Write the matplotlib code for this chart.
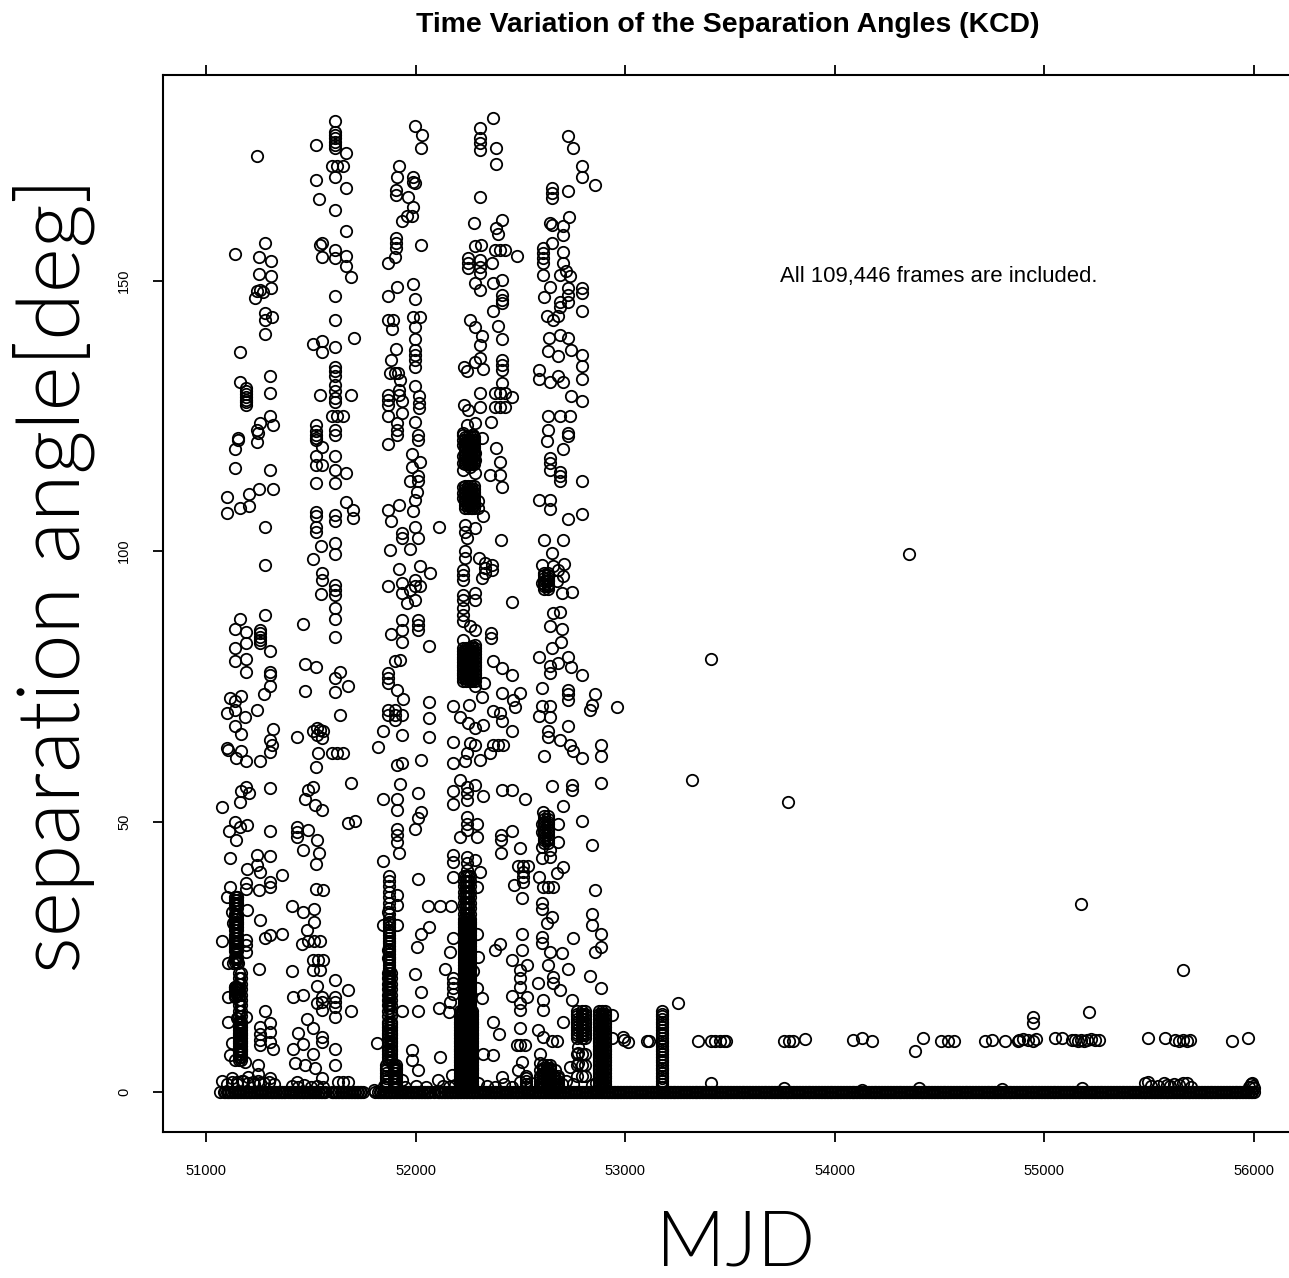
import matplotlib
matplotlib.use("Agg")
import matplotlib.pyplot as plt

# points as (MJD, separation angle)
band_a = [(51243,173),(51140,155),(51281,157),(51254,154.3),(51310,153.6),(51254,151.2),(51310,150.8),(51310,148.6),
 (51242,148),(51258,148.3),(51273,147.8),(51234,146.7),(51281,144),(51281,142.7),(51313,143.2),(51281,140.2),(51164,136.8),
 (51164,131.3),(51191,130.1),(51191,129.5),(51191,129),(51191,128.5),(51191,128),(51191,127.5),(51191,127),(51305,132.3),
 (51305,129.3),(51305,124.9),(51321,123.3),(51258,123.6),(51242,122.4),(51154,120.9),(51250,121.8),(51242,120.2),(51154,120.5),
 (51140,118.8),(51140,115.4),(51305,114.9),(51254,111.4),(51321,111.4),(51203,110.5),(51102,110),(51162,107.9),(51207,108.4),
 (51102,107),(51281,104.4),(51281,97.5),(51281,88.1),(51164,87.5),(51140,85.6),(51191,85.1),(51258,85.4),(51258,84.8),(51258,84.2),
 (51258,83.6),(51258,83),(51191,83),(51140,82.1),(51305,81.6),(51140,79.6),(51191,80.1),(51191,77.6),(51305,77.7),(51305,77.1),
 (51305,75.1),(51278,73.6),(51168,73.2),(51114,72.8),(51138,72.2),(51242,70.7),(51098,70),(51138,70.7),(51186,69.4),(51138,67.7),
 (51167,66.2),(51321,67.1),(51305,65.1),(51313,64.2),(51305,62.9),(51098,63.6),(51106,63.3),(51167,63),(51143,61.7),(51191,61.1),
 (51258,61.1),(51191,56.4),(51167,55.6),(51207,55.2),(51305,56.2),(51162,53.6),(51075,52.7),(51138,50),(51194,49.3),(51110,48.2),
 (51162,49),(51143,46.6),(51305,48.2),(51114,43.2),(51242,43.9),(51305,43.7),(51194,41.3),(51242,41.9),(51258,40.7),(51361,40.2),
 (51191,38.6),(51191,37.6),(51305,38.9),(51305,37.9),(51254,37.3),(51114,37.9),(51098,36.1),(51146,36.1),(51122,33.3),(51194,33.6),
 (51258,31.8),(51130,31.2),(51143,29.3),(51143,27.5),(51143,26.5),(51191,28.1),(51191,27.2),(51191,25.9),(51075,27.9),(51281,28.4),
 (51305,29),(51361,29.3),(51106,23.9),(51130,23.9),(51154,23.9),(51254,22.8),(51138,19.5),(51138,17.6),(51106,17.5),(51281,15),
 (51191,13.9),(51106,13),(51146,13.6),(51162,11.8),(51162,10.2),(51162,9.3),(51162,8),(51162,7.1),(51122,9),(51114,6.8),(51138,5.9),
 (51186,5.6),(51250,5),(51258,12),(51258,10.8),(51258,9.6),(51258,8.7),(51305,12.7),(51305,11.1),(51305,9.3),(51321,7.9),(51075,2),
 (51122,2.5),(51305,2.5),(51250,3.4),(51202,2.8),(51170,2),(51150,1.8),(51260,1.6),(51230,1.5)]

band_b = [(51615,179.5),(51615,177.5),(51615,176.9),(51615,176.3),(51615,175.7),(51615,175.1),(51615,174.5),(51523,175.1),(51666,173.5),
 (51599,171.1),(51626,171.1),(51652,171.1),(51615,169.1),(51523,168.6),(51666,167.1),(51539,165.1),(51615,163.1),(51666,159.1),
 (51544,156.5),(51552,156.9),(51615,155.7),(51615,154.1),(51552,154.3),(51666,154.6),(51666,152.7),(51692,150.7),(51615,147.2),
 (51615,142.7),(51704,139.3),(51512,138.2),(51552,138.9),(51552,136.8),(51615,137.8),(51615,134.1),(51615,133.2),(51615,132.3),
 (51615,130.7),(51615,129.5),(51615,128.3),(51544,128.8),(51692,128.8),(51615,127.5),(51599,124.9),(51626,124.9),(51652,124.9),
 (51523,123.3),(51523,122.1),(51523,120.9),(51615,122.4),(51615,121.5),(51523,121.5),(51523,120.6),(51552,119.3),(51523,117.5),
 (51523,115.9),(51552,115.9),(51615,117.5),(51615,114.9),(51666,114.4),(51523,112.5),(51615,112.5),(51523,107.3),(51523,106.4),
 (51615,106.7),(51615,105.5),(51666,109),(51702,107.6),(51702,106.1),(51523,104.5),(51523,103.6),(51549,101),(51615,101.5),(51615,99.5),
 (51512,98.5),(51552,95.9),(51552,94.7),(51615,93.8),(51615,92.8),(51615,91.9),(51549,92),(51615,89.4),(51615,87.5),(51615,84.1),
 (51461,86.6),(51472,79.1),(51523,78.6),(51639,77.7),(51615,76.5),(51679,75.1),(51615,74),(51472,74.2),(51641,69.7),(51544,67),
 (51512,66.7),(51559,66.7),(51528,67.3),(51528,66),(51436,65.7),(51552,65.4),(51536,62.6),(51599,62.6),(51626,62.6),(51652,62.6),
 (51523,60.1),(51512,56.4),(51488,55.8),(51472,54.1),(51520,53),(51552,52.1),(51690,57.2),(51679,49.8),(51711,50.1),(51432,49),
 (51432,48.1),(51432,47.2),(51488,48.4),(51528,46.6),(51464,44.8),(51540,44.2),(51523,42.1),(51525,37.6),(51560,37.3),(51409,34.4),
 (51464,33.3),(51515,33.9),(51515,31.5),(51480,29.9),(51456,27.4),(51488,27.9),(51515,27.9),(51544,27.9),(51409,22.4),(51512,24.4),
 (51536,24.4),(51560,24.4),(51512,22.5),(51544,22.5),(51615,20.8),(51528,19.6),(51679,18.8),(51416,17.5),(51464,17.9),(51552,17.6),
 (51552,16.7),(51615,17.6),(51615,16.7),(51615,15.8),(51690,15),(51615,13.8),(51528,16.4),(51552,15.2),(51480,13.5),(51512,11.8),
 (51437,11),(51552,10.2),(51552,9.3),(51464,8.9),(51615,8),(51416,7.9),(51512,7.1),(51424,5.4),(51472,5),(51615,5),(51520,4.4),
 (51552,2.5),(51432,1.9),(51631,1.9),(51655,1.9),(51679,1.9)]

band_c = [(51997,178.6),(52029,177),(52024,174.5),(51922,171.1),(51910,169.1),(51986,169.2),(51989,168.3),(51997,168),(51906,166.8),
 (51906,165.8),(51965,165.5),(51986,163.6),(51933,161.1),(51957,162),(51981,162),(51906,157.8),(51906,156.9),(51906,156),(52024,156.6),
 (51902,154.4),(51870,153.2),(51910,148.8),(51870,147.2),(51986,149.3),(51997,146.6),(51870,142.7),(51894,142.7),(51886,141),
 (51986,143.2),(52021,143.2),(51997,141.5),(51997,139.2),(51997,137.2),(51997,136.3),(51997,135.3),(51997,134),(51906,137.3),
 (51883,135.3),(51878,132.9),(51902,132.9),(51918,132.9),(51925,131.6),(51997,130.6),(51922,129.8),(51922,128.9),(51870,128.9),
 (51870,128),(51870,127),(51933,127.7),(52018,128.6),(52018,127.3),(52018,126.4),(51870,124.9),(51933,125.5),(51997,123.8),
 (51910,123.6),(51910,122.4),(51910,121.5),(52013,121.5),(52013,120.6),(51870,119.8),(51981,118),(52021,116.4),(51981,115.6),
 (52013,113.8),(52013,112.9),(51973,112.9),(52005,111),(51997,109.5),(51922,108.6),(51870,107.6),(51986,107.4),(51883,105.5),
 (52113,104.4),(51997,104.5),(51933,103.3),(51933,102.4),(52013,102.4),(51973,100.4),(51878,100.2),(51922,96.7),(52021,97.2),
 (52069,96),(51870,93.6),(51933,94.1),(51997,94.7),(51997,93.5),(51933,92.2),(51973,92.8),(52021,93.5),(51957,90.4),(51997,91),
 (51933,87.3),(52013,87.3),(52013,86.4),(52013,85.4),(51881,84.6),(51933,85.4),(51933,83.1),(52064,82.5),(51925,79.9),(51902,79.6),
 (51870,77.4),(51870,76.5),(51870,75.6),(51910,74.4),(51938,72.6),(52064,72.1),(52064,69.1),(52064,65.7),(51870,70.7),(51870,69.7),
 (51902,70.7),(51902,69.7),(51902,68.8),(51933,69.7),(51846,66.7),(51933,66),(51819,63.7),(51910,60.5),(51933,60.8),(52024,61.3),
 (51925,57),(51846,54.1),(51910,54.1),(51910,52.1),(52013,55.2),(52026,51.8),(52013,50.6),(51997,48.6),(51910,48.7),(51910,47.5),
 (51910,46.3),(51922,44.2),(51846,42.7),(52013,39.3),(51910,36.4),(51910,34.5),(51870,33.3),(51843,30.9),(51910,30.9),(52064,30.5),
 (52026,29.3),(52005,26.9),(51870,26.2),(51870,24.7),(51997,21.9),(52026,18.4),(52013,15),(51933,15),(51814,9),(51981,7.8),
 (51981,5.9),(52013,4),(52115,6.5),(51933,2.2),(52108,2.2),(52172,3.1)]

band_d = [(52371,180.1),(52307,178.2),(52307,176.3),(52307,175.4),(52307,174.2),(52383,174.5),(52383,171.6),(52307,165.5),(52278,160.6),
 (52410,161.2),(52383,159.7),(52394,158.6),(52283,156.3),(52310,156.6),(52379,155.7),(52403,155.7),(52427,155.7),(52485,154.6),
 (52252,154.1),(52252,153.2),(52252,152.3),(52307,153.8),(52307,152.6),(52307,151.4),(52363,153.2),(52283,149.5),(52307,148.3),
 (52371,149.6),(52410,150.1),(52410,147.4),(52410,146.4),(52410,145.8),(52371,144.3),(52259,142.7),(52283,141.5),(52394,141.6),
 (52410,139.2),(52315,139.7),(52307,138.1),(52307,135.7),(52283,135),(52231,134.1),(52244,133.2),(52320,133.7),(52410,135.3),
 (52410,134.4),(52410,133.5),(52410,131),(52307,129.3),(52379,129.2),(52403,129.2),(52427,129.2),(52461,128.4),(52379,126.7),
 (52403,126.7),(52427,126.7),(52231,127),(52252,126.1),(52307,126.7),(52358,123.8),(52244,123.3),(52283,123.6),(52228,121.8),
 (52267,121.5),(52228,121.5),(52228,120.6),(52228,119.6),(52275,121.5),(52275,120.2),(52315,120.9),(52383,119),(52403,116.5),
 (52228,117.5),(52228,116.2),(52228,115),(52259,115.6),(52283,118.1),(52283,116.9),(52283,114.4),(52355,114.1),(52403,114.1),
 (52410,111.9),(52228,111.9),(52228,110.7),(52228,109.8),(52267,110.4),(52267,109.2),(52267,107.9),(52299,109.2),(52299,107.9),
 (52323,106.4),(52236,104.8),(52236,103.6),(52283,104.2),(52409,102),(52244,102.4),(52236,100),(52236,98.7),(52304,98.7),(52331,97.8),
 (52331,96.8),(52331,95.9),(52363,97.5),(52363,96.5),(52318,95),(52228,96.5),(52228,95.6),(52228,94.7),(52283,92.2),(52283,91),
 (52228,91.9),(52228,91),(52228,89.4),(52228,88.2),(52228,87),(52460,90.5),(52259,86.1),(52283,85.4),(52358,84.8),(52358,83.9),
 (52228,83.6),(52283,82.7),(52236,81.7),(52236,80.5),(52236,79.3),(52236,78),(52236,76.5),(52267,82.4),(52267,81.1),(52267,79.9),
 (52267,78.7),(52267,77.4),(52267,76.2),(52371,79.7),(52410,78.4),(52461,77.1),(52325,75.7),(52283,75),(52318,73.1),(52410,73.7),
 (52498,73.7),(52466,72.5),(52177,71.3),(52256,71.6),(52474,71.2),(52371,70.5),(52403,70),(52212,69.4),(52252,68.2),(52283,67.3),
 (52323,67.9),(52410,68.5),(52458,66.7),(52177,64.7),(52259,64.5),(52283,64.2),(52371,64.2),(52394,64.2),(52418,64.2),(52355,62.6),
 (52244,62.6),(52177,60.8),(52236,61.1),(52307,61.3),(52212,57.7),(52180,55.7),(52180,53.2),(52243,56.4),(52243,55.2),(52243,54),
 (52283,56.7),(52323,54.7),(52243,50.9),(52243,49.6),(52243,48.4),(52291,49.6),(52291,47.2),(52212,47.2),(52180,43.8),(52180,42.6),
 (52243,43.5),(52243,42.3),(52243,41),(52283,42.9),(52307,40.7),(52180,39.7),(52291,37.9),(52060,34.4),(52116,34.4),(52167,34.4),
 (52294,29.3),(52177,28.4),(52164,25.8),(52299,25),(52140,22.8),(52275,22.4),(52177,21),(52177,20.1),(52177,19.2),(52177,18.2),
 (52291,19.2),(52315,17.3),(52111,15.5),(52161,14.8),(52164,16.7),(52371,13),(52399,10.8),(52323,7.1),(52371,6.8),(52410,55.8),
 (52461,55.8),(52522,54.1),(52407,47.5),(52407,46.6),(52461,48.2),(52407,44.2),(52498,45.2),(52490,41.8),(52514,41.8),(52538,41.8),
 (52514,40.7),(52514,39.8),(52514,38.9),(52469,38.2),(52510,35.8),(52510,29.3),(52402,27.3),(52379,26.2),(52506,26.2),(52458,24.4),
 (52530,23.5),(52498,22.5),(52498,21),(52498,19.5),(52458,17.8),(52498,16.4),(52498,15.1),(52530,17.6),(52498,11.8),(52482,8.7),
 (52498,8.7),(52522,8.7),(52510,5.6),(52490,4),(52410,2.8)]

band_e = [(52728,176.8),(52752,174.5),(52792,171.1),(52792,169.1),(52856,167.6),(52728,166.6),(52652,167.1),(52652,166.2),(52652,165.2),
 (52732,161.7),(52641,160.6),(52649,160.3),(52705,160.1),(52705,158.5),(52609,156),(52609,155.1),(52609,154.1),(52609,153.2),
 (52649,156.9),(52705,155.2),(52705,153.2),(52609,151),(52689,151),(52720,151.7),(52736,150.8),(52641,148.9),(52612,147),(52728,148.6),
 (52728,147.4),(52728,146.1),(52792,148.6),(52792,147.7),(52689,146.1),(52689,145.2),(52792,144.3),(52625,143.4),(52657,142.7),
 (52681,143.4),(52636,139.4),(52689,140),(52728,139.4),(52633,136.9),(52681,136),(52740,137.2),(52792,136.3),(52792,134.3),(52792,131.8),
 (52589,133.5),(52589,131.8),(52641,131.3),(52681,132.3),(52705,131.3),(52740,128.6),(52792,127.7),(52633,124.9),(52689,124.9),
 (52736,124.9),(52633,122.4),(52728,121.8),(52625,120.4),(52705,118.8),(52728,121.2),(52641,117.2),(52641,116.2),(52641,115),
 (52689,114.7),(52689,113.8),(52689,112.9),(52792,112.9),(52589,109.5),(52641,109.5),(52641,107.7),(52728,105.9),(52792,106.9),
 (52612,102),(52701,102),(52649,99.6),(52601,97.5),(52708,97.6),(52657,97.2),(52681,96.5),(52601,94.1),(52633,94.7),(52633,93.5),
 (52673,94.4),(52705,95.3),(52697,92.2),(52744,92.4),(52657,88.5),(52689,88.8),(52641,86.2),(52697,85.6),(52692,83.1),(52649,82.1),
 (52589,80.5),(52728,80.5),(52681,79.3),(52641,78.7),(52641,77.4),(52740,78.6),(52792,77.1),(52601,74.7),(52728,74.4),(52728,73.5),
 (52728,72.5),(52856,73.6),(52840,71.6),(52832,70.7),(52959,71.2),(52601,71.3),(52641,71.3),(52589,69.6),(52641,69.4),(52728,67.7),
 (52633,66.7),(52633,65.7),(52689,65.1),(52736,64.2),(52752,63),(52792,61.7),(52883,64.2),(52883,62.2),(52612,62.2),(52883,57.2),
 (52744,56.7),(52744,55.8),(52649,56.5),(52705,52.8),(52681,49.6),(52792,50.1),(52609,51.8),(52601,49.6),(52601,48.1),(52844,45.7),
 (52681,46.3),(52601,45.3),(52641,44.7),(52641,43.5),(52601,43.2),(52705,41.6),(52673,40.4),(52589,39.8),(52609,37.9),(52633,37.9),
 (52657,37.9),(52856,37.3),(52601,34.9),(52601,33.9),(52844,32.9),(52844,30.9),(52883,29.3),(52649,32.4),(52625,31.2),(52601,28.7),
 (52601,27.5),(52752,28.4),(52887,26.9),(52856,25.9),(52697,25.7),(52641,25.9),(52633,23.5),(52728,22.7),(52832,21.4),(52883,19.3),
 (52657,21.3),(52657,20.1),(52585,20.1),(52689,18.8),(52744,17),(52609,17),(52609,15.1),(52705,13),(52585,11.5),(52609,10.2),
 (52649,9.5),(52673,9.5),(52935,14.3),(52935,9.9),(52991,10.2),(53015,9.3),(53115,9.4),(52887,8),(52736,4.7),(52665,4.1),
 (52593,7.1),(52593,5.3),(52593,4.1),(52776,8.4),(52776,7.2),(52776,5.3)]

# the sparse part after MJD 53000
late_x = [54354,53409,53319,53777,55175,55661,55213,54945,54945,53252,53104,52994,53347,53409,53430,53450,53470,53480,53409,53760,53780,
 53800,53858,54087,54130,54177,54382,54421,54507,54540,54569,54717,54750,54812,54874,54880,54900,54920,54945,54960,55050,55084,55130,
 55145,55160,55175,55190,55205,55220,55240,55260,55494,55575,55623,55640,55660,55680,55695,55895,55972]
late_y = [99.4,80,57.7,53.6,34.8,22.5,14.8,13.9,12.8,16.5,9.4,9.6,9.4,9.4,9.4,9.4,9.4,9.4,1.7,9.4,9.4,
 9.4,9.8,9.6,10,9.4,7.6,10,9.4,9.4,9.4,9.4,9.6,9.4,9.4,9.6,9.8,9.6,9.4,9.8,10,10,9.6,
 9.6,9.4,9.6,9.4,9.6,9.8,9.6,9.6,10,10,9.6,9.4,9.6,9.4,9.6,9.4,10]

# angle runs shared by the dense stacks
run_low = [1,1.5,2,2.5,3,3.5,4,4.5,5,5.5,6,6.5,7,7.5,8,8.5,9,9.5,10,10.5,11,11.5,12,12.5,13,13.5,14,14.5,15]
run_top = [10,10.5,11,11.5,12,12.5,13,13.5,14,14.5,15,7,5,3]
run_foot = [1,1.5,2,2.5,3,3.5,4,4.5,5]
run_tiny = [1,1.5,2,2.5,3]
run_mid = [15.5,16,16.5,17,17.5,18,18.5,19,19.5,20,20.5,21,21.5,22,22.5,23,23.5,24,24.5,25,25.5,26,26.5,27,27.5,28,28.5,29,29.5,30,30.5,31,31.5,32,33,34,35,36,37,38,39,40]
run_a = [18,18.5,19,19.5,24,24.5,25,26,26.5,27,27.5,28,28.5,29,30,30.5,31,31.5,32,32.5,33,34,34.5,35,35.5,36]
run_b = [6,6.5,7,7.5,8,8.5,9,9.5,10,10.5,11,11.5,12,12.5,13,14,15,16,17,18,19,20,21,22]
run_blob_80 = [76,76.5,77,77.5,78,78.5,79,79.5,80,80.5,81,81.5,82]
run_blob_110 = [108,108.5,109,109.5,110,110.5,111,111.5,112,116,116.5,117,117.5,118,118.5,119,119.5,120,120.5,121]
run_blob_e = [46,46.5,47,47.5,48,48.5,49,49.5,50,50.5,51,93,93.5,94,94.5,95,95.5,96]

stack_x = [51138,51150,51158,51166,51875,51860,51885,51895,51870,51905,
 52210,52222,52234,52246,52258,52270,52230,52240,52250,52260,
 52228,52240,52255,52270,52285,52235,52250,52265,52280,
 52792,52770,52810,52875,52890,52905,53176,52525,52610,52625,52595,52640,52660,52680,52615,52630]
stack_y = [run_a, run_a, run_b, run_b, run_mid, run_foot, run_b, run_foot, run_b, run_foot,
 run_low, run_low, run_low, run_low, run_low, run_low, run_mid, run_mid, run_mid, run_mid,
 run_blob_80, run_blob_80, run_blob_80, run_blob_80, run_blob_80, run_blob_110, run_blob_110, run_blob_110, run_blob_110,
 run_top, run_top, run_top, run_low, run_low, run_low, run_low, run_tiny, run_foot, run_foot, run_tiny, run_foot, run_tiny, run_tiny,
 run_blob_e, run_blob_e]

# the row at zero
zero_x = [51067,51085,51098,51112,51126,51140,51154,51168,51182,51196,51210,51224,51238,51252,51266,51280,51294,51308,51322,51336,51350,51364,51377,
 51393,51407,51421,51435,51449,51463,51477,51491,51505,51519,51533,51547,51561,51568,
 51600,51614,51628,51642,51656,51670,51684,51698,51712,51726,51740,51750,51806,
 51822,51836,51850,51864,51878,51892,51906,51920,51934,51948,51962,51976,51990,52004,52018,52032,52046,52060,52068,52086,52108,
 52120,52134,52148,52162,52176,52190,52204,52218,52232,52246,52260,52274,52288,52302,52316,52330,52344,52358,52372,52386,52400,52414,52428,52442,
 52456,52470,52484,52498,52512,52526,52540,52554,52568,52582,52596,52610,52624,52638,52652,52666,52680,52694,52708,52722,52736,52750,52764,52778,
 52792,52806,52820,52834,52848,52862,52876,52890,52904,52918,52932,52946,52960,52974,52988,53002,53016,53030,53044,53058,53072,53086,53100,53114,
 53128,53142,53156,53170,53184,53198,53212,53226,53240,53254,53268,53282,53296,53310,53324,53338,53352,53366,53380,53394,53408,53422,53436,53450,
 53464,53478,53492,53506,53520,53534,53548,53562,53576,53590,53604,53618,53632,53646,53660,53674,53688,53702,53716,53730,53744,53758,53772,53786,
 53800,53814,53828,53842,53856,53870,53884,53898,53912,53926,53940,53954,53968,53982,53996,54010,54024,54038,54052,54066,54080,54094,54108,54122,
 54136,54150,54164,54178,54192,54206,54220,54234,54248,54262,54276,54290,54304,54318,54332,54346,54360,54374,54388,54402,54416,54430,54444,54458,
 54472,54486,54500,54514,54528,54542,54556,54570,54584,54598,54612,54626,54640,54654,54668,54682,54696,54710,54724,54738,54752,54766,54780,54794,
 54808,54822,54836,54850,54864,54878,54892,54906,54920,54934,54948,54962,54976,54990,55004,55018,55032,55046,55060,55074,55088,55102,55116,55130,
 55144,55158,55172,55186,55200,55214,55228,55242,55256,55270,55284,55298,55312,55326,55340,55354,55368,55382,55396,55410,55424,55438,55452,55466,
 55480,55494,55508,55522,55536,55550,55564,55578,55592,55606,55620,55634,55648,55662,55676,55690,55704,55718,55732,55746,55760,55774,55788,55802,
 55816,55830,55844,55858,55872,55886,55900,55914,55928,55942,55956,55970,55984,55998]
zero_x_more = [51092,51105,51119,51133,51147,51161,51175,51189,51203,51217,51231,51245,51259,51273,51287,51301,51315,51329,51343,51357,51370,
 51400,51414,51428,51442,51456,51470,51484,51498,51512,51526,51540,51554,
 51607,51621,51635,51649,51663,51677,51691,51705,51719,51733,
 51829,51843,51857,51871,51885,51899,51913,51927,51941,51955,51969,51983,51997,52011,52025,52039,52053,
 52113,52127,52141,52155,52169,52183,52197,52211,52225,52239,52253,52267,52281,52295,52309,52323,52337,52351,52365,52379,52393,52407,52421,52435,52449,
 52463,52477,52491,52505,52519,52533,52547,52561,52575,52589,52603,52617,52631,52645,52659,52673,52687,52701,52715,52729,52743,52757,52771,52785,
 52799,52813,52827,52841,52855,52869,52883,52897,52911,52925,52939,52953,52967,52981,52995,53009,53023,53037,53051,53065,53079,53093,53107,53121,
 53135,53149,53163,53177,53191,53205,53219,53233,53247,53261,53275,53289,53303,53317,53331,53345,53359,53373,53387,53401,53415,53429,53443,53457,
 53471,53485,53499,53513,53527,53541,53555,53569,53583,53597,53611,53625,53639,53653,53667,53681,53695,53709,53723,53737,53751,53765,53779,53793,
 53807,53821,53835,53849,53863,53877,53891,53905,53919,53933,53947,53961,53975,53989,54003,54017,54031,54045,54059,54073,54087,54101,54115,54129,
 54143,54157,54171,54185,54199,54213,54227,54241,54255,54269,54283,54297,54311,54325,54339,54353,54367,54381,54395,54409,54423,54437,54451,54465,
 54479,54493,54507,54521,54535,54549,54563,54577,54591,54605,54619,54633,54647,54661,54675,54689,54703,54717,54731,54745,54759,54773,54787,54801,
 54815,54829,54843,54857,54871,54885,54899,54913,54927,54941,54955,54969,54983,54997,55011,55025,55039,55053,55067,55081,55095,55109,55123,55137,
 55151,55165,55179,55193,55207,55221,55235,55249,55263,55277,55291,55305,55319,55333,55347,55361,55375,55389,55403,55417,55431,55445,55459,55473,
 55487,55501,55515,55529,55543,55557,55571,55585,55599,55613,55627,55641,55655,55669,55683,55697,55711,55725,55739,55753,55767,55781,55795,55809,
 55823,55837,55851,55865,55879,55893,55907,55921,55935,55949,55963,55977,55991]
# slightly raised points along the row
raised_x = [51100,51125,51150,51175,51200,51225,51250,51275,51300,51325,51410,51440,51470,51500,51530,51560,51800,51850,51900,51950,52000,52050,
 52130,52160,52190,52300,52340,52380,52420,52460,52500,52550,52700,52720,52750,52840,52860,53176,53760,54130,54400,54800,55180,
 55480,55494,55510,55540,55570,55585,55600,55620,55640,55660,55680,55700,55975,55985,55990,55995,56000]
raised_y = [1.5,1.8,1.5,2,1.6,1.8,2,1.6,1.8,1.5,1.2,1,1.3,1,1.2,1,0.4,1.2,1.4,1,1.2,1,
 1.2,1,1.3,1.6,1.2,1,1.5,1,1.8,1.6,1.4,2,1.5,1.3,1.6,1,0.8,0.4,0.7,0.5,0.8,
 1.6,1.8,1.2,1.1,1.6,1.3,1.2,1.5,1.3,1.6,1.7,1,0.9,1.4,1.6,1.1,0.8]

x_ticks = [51000,52000,53000,54000,55000,56000]
y_ticks = [0,50,100,150]

fig = plt.figure(figsize=(12.89,12.78), dpi=100)
ax = fig.add_axes([163/1289, 1-1132/1278, (1289-163)/1289, (1132-75)/1278])

style = dict(linestyle='none', marker='o', markersize=8.2, markerfacecolor='none', markeredgecolor='black', markeredgewidth=1.3)

for band in [band_a, band_b, band_c, band_d, band_e]:
    ax.plot([p[0] for p in band], [p[1] for p in band], **style)
for x, ys in zip(stack_x, stack_y):
    ax.plot([x]*len(ys), ys, **style)
ax.plot(late_x, late_y, **style)
ax.plot(zero_x, [0]*len(zero_x), **style)
ax.plot(zero_x_more, [0]*len(zero_x_more), **style)
ax.plot(raised_x, raised_y, **style)

ax.set_xlim(50795, 56167)
ax.set_ylim(-7.39, 188)
ax.spines['right'].set_visible(False)
for s in ['left','top','bottom']:
    ax.spines[s].set_linewidth(1.5)

ax.set_xticks(x_ticks)
ax.set_yticks(y_ticks)
ax.tick_params(axis='x', top=True, bottom=True, length=7, width=1.3, labelsize=10.5, pad=16)
ax.tick_params(axis='y', length=7, width=1.3, labelsize=10.5, pad=16)
for t in ax.get_yticklabels():
    t.set_rotation(90)
    t.set_va('center')
for t in ax.get_xticklabels() + ax.get_yticklabels():
    t.set_family('Liberation Sans')

ax.text(54497, 150.8, 'All 109,446 frames are included.', family='Liberation Sans', fontsize=15.9, ha='center', va='center')
fig.text(728/1289, 1-25/1278, 'Time Variation of the Separation Angles (KCD)', family='Liberation Sans',
         fontweight='bold', fontsize=20.4, ha='center', va='center')
fig.text(736/1289, 1-1266/1278, 'MJD', family='Lato', fontweight=300, fontsize=55, ha='center', va='baseline')
fig.text(54/1289, 1-575/1278, 'separation angle[deg]', family='Lato', fontweight=300, fontsize=62,
         rotation=90, ha='center', va='center')

fig.savefig('out.png', dpi=100)
